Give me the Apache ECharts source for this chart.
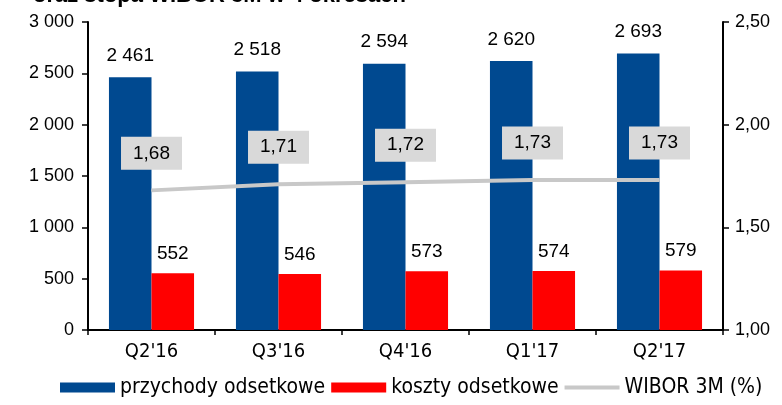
<!DOCTYPE html>
<html>
<head>
<meta charset="utf-8">
<script src="https://cdn.jsdelivr.net/npm/echarts@6/dist/echarts.min.js"></script>
<style>
  html, body { margin: 0; padding: 0; background: #fff; }
  #chart { width: 782px; height: 405px; }
</style>
</head>
<body>
<div id="chart"></div>
<script>
var categories = ["Q2'16", "Q3'16", "Q4'16", "Q1'17", "Q2'17"];
var przychody = [2461, 2518, 2594, 2620, 2693];
var koszty = [552, 546, 573, 574, 579];
var wibor = [1.68, 1.71, 1.72, 1.73, 1.73];
var leftTicks = [0, 500, 1000, 1500, 2000, 2500, 3000];
var rightTicks = [1.00, 1.50, 2.00, 2.50];

var numFont = 'Liberation Sans';
var narrowFont = '"Liberation Sans Narrow", "DejaVu Sans Condensed", "Liberation Sans", sans-serif';

function spaced(v) {
    return String(v).replace(/\B(?=(\d{3})+(?!\d))/g, ' ');
}
function comma(v, d) {
    return v.toFixed(d).replace('.', ',');
}

var myChart = echarts.init(document.getElementById('chart'));
var option = {
    animation: false,
    title: {
        text: 'oraz stopa WIBOR 3M w 4 okresach',
        left: 28,
        top: -20,
        textStyle: { fontFamily: numFont, fontWeight: 'bold', fontSize: 22, color: '#000' }
    },
    legend: {
        bottom: 2,
        left: 55,
        itemWidth: 55,
        itemHeight: 10,
        itemGap: 6,
        textStyle: { fontFamily: narrowFont, fontSize: 21, color: '#000' },
        data: [
            { name: 'przychody odsetkowe', icon: 'rect' },
            { name: 'koszty odsetkowe', icon: 'rect' },
            { name: 'WIBOR 3M (%)', icon: 'path://M0,0 M0,3 L55,3 L55,7 L0,7 Z M55,10' }
        ]
    },
    grid: {
        left: 88,
        right: 59,
        top: 22,
        bottom: 75,
        containLabel: false
    },
    xAxis: {
        type: 'category',
        data: categories,
        axisLine: { lineStyle: { color: '#000', width: 2 } },
        axisTick: { show: true, length: 5, lineStyle: { color: '#000', width: 1.5 } },
        axisLabel: { fontFamily: narrowFont, fontSize: 20, color: '#000', margin: 12 }
    },
    yAxis: [{
        type: 'value',
        min: 0,
        max: 3000,
        interval: 500,
        splitLine: { show: false },
        axisLine: { show: true, lineStyle: { color: '#000', width: 2 } },
        axisTick: { show: true, length: 6, lineStyle: { color: '#000', width: 1.5 } },
        axisLabel: {
            fontFamily: numFont, fontSize: 18, color: '#000', margin: 14,
            formatter: function (v) { return spaced(v); }
        }
    }, {
        type: 'value',
        min: 1.0,
        max: 2.5,
        interval: 0.5,
        position: 'right',
        splitLine: { show: false },
        axisLine: { show: true, lineStyle: { color: '#000', width: 2 } },
        axisTick: { show: true, length: 6, lineStyle: { color: '#000', width: 1.5 } },
        axisLabel: {
            fontFamily: numFont, fontSize: 18, color: '#000', margin: 12,
            formatter: function (v) { return comma(v, 2); }
        }
    }],
    series: [{
        name: 'przychody odsetkowe',
        type: 'bar',
        data: przychody,
        barGap: '0%',
        barCategoryGap: '33%',
        itemStyle: { color: '#004990' },
        label: {
            show: true, position: 'top', distance: 12,
            fontFamily: numFont, fontSize: 19, color: '#000',
            formatter: function (p) { return spaced(p.value); }
        }
    }, {
        name: 'koszty odsetkowe',
        type: 'bar',
        data: koszty,
        itemStyle: { color: '#ff0000' },
        label: {
            show: true, position: 'top', distance: 10,
            fontFamily: numFont, fontSize: 19, color: '#000',
            formatter: function (p) { return spaced(p.value); }
        }
    }, {
        name: 'WIBOR 3M (%)',
        type: 'line',
        yAxisIndex: 1,
        data: wibor,
        symbol: 'circle',
        symbolSize: 1,
        showSymbol: true,
        lineStyle: { color: '#c8c8c8', width: 4 },
        itemStyle: { color: '#c8c8c8' },
        label: {
            show: true, position: 'top', distance: 20,
            fontFamily: numFont, fontSize: 19, color: '#000',
            backgroundColor: '#d9d9d9',
            padding: [7, 12, 7, 12],
            formatter: function (p) { return comma(p.value, 2); }
        }
    }]
};
myChart.setOption(option, true);
</script>
</body>
</html>
